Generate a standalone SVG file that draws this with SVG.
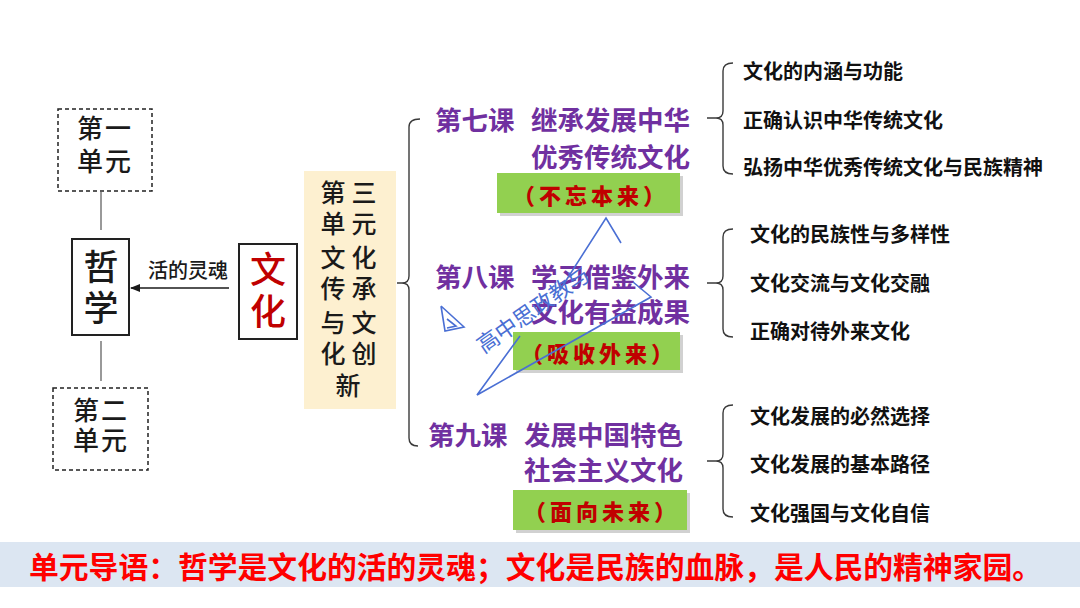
<svg xmlns="http://www.w3.org/2000/svg" width="1080" height="608" viewBox="0 0 1080 608">
<defs>
<marker id="arr" viewBox="0 0 10 10" refX="9" refY="5" markerWidth="7" markerHeight="7" orient="auto-start-reverse">
<path d="M0,1 L10,5 L0,9 z" fill="#1a1a1a"/>
</marker>
<style>
.cjk{font-family:"Noto Sans CJK SC","Noto Sans",sans-serif;}
.dash{fill:#fff;stroke:#222;stroke-width:1.5;stroke-dasharray:4 3;}
.solid{fill:#fff;stroke:#222;stroke-width:2;}
.blk{fill:#1a1a1a;font-weight:500;}
.pur{fill:#7030a0;font-weight:700;font-size:26.5px;}
.item{fill:#111;font-weight:700;font-size:20px;}
.green{fill:#92d050;}
.shadow{fill:#9a9a9a;opacity:0.45;}
.gtxt{fill:#c00000;font-weight:900;font-size:22px;letter-spacing:4px;}
.br{fill:none;stroke:#3a3a3a;stroke-width:1.4;}
.wm{fill:none;stroke:#4a6fd4;stroke-width:1.6;}
</style>
</defs>
<rect width="1080" height="608" fill="#fff"/>

<g id="connectors">
<line x1="101" y1="192" x2="101" y2="230" stroke="#555" stroke-width="1.2"/>
<line x1="101" y1="341" x2="101" y2="381" stroke="#555" stroke-width="1.2"/>
<line x1="229" y1="288" x2="131" y2="288" stroke="#1a1a1a" stroke-width="1.5" marker-end="url(#arr)"/>
<path class="br" d="M420,119 Q409,119 409,127 V276 Q409,283 402,283 H397 M402,283 Q409,283 409,290 V438 Q409,446 418,446"/>
<path class="br" d="M733,63 Q723,63 723,71 V111 Q723,118 716,118 H707 M716,118 Q723,118 723,125 V166 Q723,174 733,174"/>
<path class="br" d="M733,229 Q723,229 723,237 V276 Q723,283 716,283 H707 M716,283 Q723,283 723,290 V329 Q723,337 733,337"/>
<path class="br" d="M733,405 Q723,405 723,413 V454 Q723,461 716,461 H707 M716,461 Q723,461 723,468 V509 Q723,517 733,517"/>
</g>

<g id="unit1">
<rect class="dash" x="58" y="109" width="94" height="82"/>
<text class="cjk blk" font-size="26" text-anchor="middle" x="90 118 90 118" y="138 138 171 171">第一单元</text>
</g>

<g id="philosophy">
<rect class="solid" x="72" y="239" width="57" height="96"/>
<text class="cjk blk" font-size="35" text-anchor="middle" x="101 101" y="280 321">哲学</text>
</g>

<g id="unit2">
<rect class="dash" x="53" y="388" width="95" height="82"/>
<text class="cjk blk" font-size="26" text-anchor="middle" x="86 114 86 114" y="420 420 450 450">第二单元</text>
</g>

<g id="label-soul">
<text class="cjk blk" x="188" y="278" font-size="20" text-anchor="middle">活的灵魂</text>
</g>

<g id="culture">
<rect class="solid" x="239" y="244" width="58" height="95"/>
<text class="cjk" font-size="36" fill="#c00000" font-weight="500" text-anchor="middle" x="268 268" y="283 325">文化</text>
</g>

<g id="unit3">
<rect x="304" y="171" width="92" height="238" fill="#fdf0d0"/>
<text class="cjk blk" font-size="25" text-anchor="middle" x="333 364 333 364 333 364 333 364 333 364 333 364 348" y="201.5 201.5 233 233 266.5 266.5 298 298 331.5 331.5 363 363 395">第三单元文化传承与文化创新</text>
</g>

<g id="lesson7">
<text class="cjk pur" x="435" y="118" dominant-baseline="central">第七课</text>
<text class="cjk pur" x="531 557.5 584 610.5 637 663.5 531 557.5 584 610.5 637 663.5" y="118 118 118 118 118 118 155 155 155 155 155 155" dominant-baseline="central">继承发展中华优秀传统文化</text>
<rect class="shadow" x="500" y="176" width="183" height="40"/>
<rect class="green" x="497" y="173" width="183" height="40"/>
<text class="cjk gtxt" x="591" y="194" text-anchor="middle" dominant-baseline="central">（不忘本来）</text>
</g>

<g id="lesson8">
<text class="cjk pur" x="435" y="275" dominant-baseline="central">第八课</text>
<text class="cjk pur" x="531 557.5 584 610.5 637 663.5 531 557.5 584 610.5 637 663.5" y="275 275 275 275 275 275 310 310 310 310 310 310" dominant-baseline="central">学习借鉴外来文化有益成果</text>
<rect class="shadow" x="516" y="335" width="167" height="38"/>
<rect class="green" x="513" y="332" width="167" height="38"/>
<text class="cjk gtxt" x="599" y="352" text-anchor="middle" dominant-baseline="central">（吸收外来）</text>
</g>

<g id="lesson9">
<text class="cjk pur" x="428" y="433" dominant-baseline="central">第九课</text>
<text class="cjk pur" x="524 550.5 577 603.5 630 656.5 524 550.5 577 603.5 630 656.5" y="433 433 433 433 433 433 468 468 468 468 468 468" dominant-baseline="central">发展中国特色社会主义文化</text>
<rect class="shadow" x="516" y="493" width="174" height="40"/>
<rect class="green" x="513" y="490" width="174" height="40"/>
<text class="cjk gtxt" x="602" y="510" text-anchor="middle" dominant-baseline="central">（面向未来）</text>
</g>

<g id="topics7" class="cjk item" dominant-baseline="central">
<text x="743" y="70">文化的内涵与功能</text>
<text x="743" y="119">正确认识中华传统文化</text>
<text x="743" y="166">弘扬中华优秀传统文化与民族精神</text>
</g>
<g id="topics8" class="cjk item" dominant-baseline="central">
<text x="750" y="233">文化的民族性与多样性</text>
<text x="750" y="282">文化交流与文化交融</text>
<text x="750" y="330">正确对待外来文化</text>
</g>
<g id="topics9" class="cjk item" dominant-baseline="central">
<text x="750" y="415">文化发展的必然选择</text>
<text x="750" y="463">文化发展的基本路径</text>
<text x="750" y="512">文化强国与文化自信</text>
</g>

<g id="watermark">
<polyline class="wm" points="621,243 606,218 560,290"/>
<polyline class="wm" points="633,282 651,297 477,395 520,336"/>
<polyline class="wm" points="441,306 464,327 445,331 441,306"/>
<polyline class="wm" points="447,319 456,326 447,328"/>
<text class="cjk" x="532" y="308" font-size="22" font-weight="400" fill="#4a6fd4" text-anchor="middle" dominant-baseline="central" transform="rotate(-35 532 308)">高中思政教与</text>
</g>

<g id="banner">
<rect x="0" y="542" width="1080" height="45" fill="#dce6f2"/>
<text class="cjk" x="29" y="565" font-size="29.8" font-weight="700" fill="#ff0000" dominant-baseline="central">单元导语：哲学是文化的活的灵魂；文化是民族的血脉，是人民的精神家园。</text>
</g>
</svg>
